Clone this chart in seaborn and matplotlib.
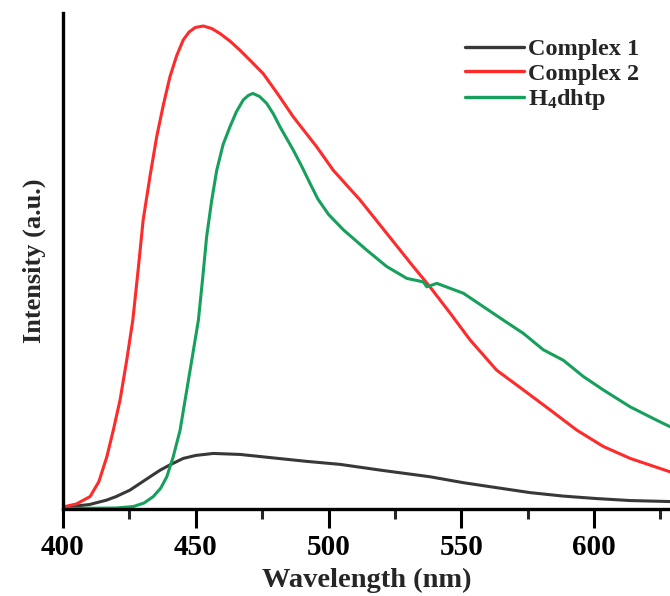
import numpy as np
import pandas as pd
import matplotlib
matplotlib.use("Agg")
import matplotlib.pyplot as plt
import seaborn as sns

# Data (wavelength nm, normalized intensity)
c1_wl = [400, 410, 416.5, 420, 425.2, 432.8, 436.5, 440.3, 445.3, 450, 456.6, 466.7, 479.2,
         491.8, 504.3, 520, 538.2, 550.8, 563.3, 575.9, 588.4, 601.0, 613.6, 628.6]
c1_int = [0.003, 0.009, 0.018, 0.025, 0.038, 0.065, 0.078, 0.089, 0.102, 0.108, 0.112, 0.110,
          0.103, 0.096, 0.090, 0.078, 0.065, 0.053, 0.043, 0.033, 0.026, 0.021, 0.017, 0.015]

c2_wl = [400, 405, 410.2, 413.5, 416.5, 419, 421.5, 424, 426.3, 428.3, 430.2, 432.8, 435.3,
         437.8, 440.3, 442.8, 445.3, 447.5, 449.8, 452.8, 456.0, 459.1, 462.8, 466.7, 471,
         475.4, 481, 486.7, 495.6, 501.8, 511.9, 521.9, 531.9, 538.2, 545.8, 553.3, 563.3,
         573.4, 583.4, 593.5, 603.5, 613.6, 628.6]
c2_int = [0.004, 0.010, 0.025, 0.055, 0.105, 0.160, 0.220, 0.300, 0.381, 0.482, 0.583, 0.672,
          0.751, 0.815, 0.872, 0.914, 0.946, 0.962, 0.971, 0.974, 0.969, 0.959, 0.944, 0.925,
          0.902, 0.878, 0.836, 0.791, 0.730, 0.683, 0.623, 0.556, 0.489, 0.448, 0.395,
          0.341, 0.280, 0.240, 0.200, 0.159, 0.126, 0.102, 0.075]

h4_wl = [400, 420, 426.5, 430.5, 434.0, 436.8, 439.1, 441.5, 444.1, 446.0, 448.5, 451.0,
         452.6, 454.1, 456.0, 457.9, 460.3, 462.9, 465.3, 467.9, 469.8, 471.5, 474, 476.7,
         479.2, 481.7, 486.7, 490, 493.0, 496, 500, 505.6, 514.4, 521.9, 529.5, 535.7, 537.0,
         540.8, 545.8, 550.8, 558.3, 565.8, 573.4, 580.9, 588.4, 596.0, 603.5, 613.6,
         623.6, 628.6]
h4_int = [0.001, 0.002, 0.005, 0.012, 0.025, 0.042, 0.065, 0.105, 0.159, 0.220, 0.300, 0.381,
          0.465, 0.549, 0.622, 0.683, 0.735, 0.771, 0.801, 0.825, 0.834, 0.838, 0.832, 0.818,
          0.797, 0.771, 0.724, 0.690, 0.657, 0.625, 0.594, 0.563, 0.522, 0.489, 0.465, 0.458,
          0.448, 0.455, 0.445, 0.435, 0.408, 0.381, 0.354, 0.321, 0.300, 0.267, 0.240, 0.206,
          0.179, 0.166]

series_names = ["Complex 1", "Complex 2", "H$_\\mathbf{4}$dhtp"]
colors = ["#383838", "#ff2a2a", "#17a05c"]
x_ticks = [400, 450, 500, 550, 600]

frames = []
for name, wl, it in zip(series_names, [c1_wl, c2_wl, h4_wl], [c1_int, c2_int, h4_int]):
    frames.append(pd.DataFrame({"wl": wl, "I": it, "series": name}))
df = pd.concat(frames, ignore_index=True)

sns.set_style("ticks")
plt.rcParams["font.family"] = ["Liberation Serif", "DejaVu Serif"]
plt.rcParams["font.weight"] = "bold"
plt.rcParams["mathtext.fontset"] = "custom"
plt.rcParams["mathtext.rm"] = "Liberation Serif:bold"
plt.rcParams["mathtext.bf"] = "Liberation Serif:bold"
plt.rcParams["mathtext.it"] = "Liberation Serif:bold"

fig = plt.figure(figsize=(6.7, 5.96), dpi=100)
ax = fig.add_axes([0.094, 0.146, 0.906, 0.832])

sns.lineplot(data=df, x="wl", y="I", hue="series", palette=dict(zip(series_names, colors)),
             hue_order=series_names, sort=False, estimator=None, linewidth=2.2, ax=ax)

ax.set_xlim(400, 628.6)
ax.set_ylim(0, 1)
ax.set_xticks(x_ticks)
ax.set_xticks([425, 475, 525, 575, 625], minor=True)
ax.set_yticks([])
for lbl in ax.get_xticklabels():
    lbl.set_fontweight("bold")
ax.tick_params(axis="x", which="major", direction="out", length=14, width=2.2,
               labelsize=21, pad=4, colors="black")
ax.tick_params(axis="x", which="minor", direction="out", length=7, width=2.2)

for s in ["top", "right"]:
    ax.spines[s].set_visible(False)
for s in ["left", "bottom"]:
    ax.spines[s].set_linewidth(2.4)
    ax.spines[s].set_color("black")

ax.set_xlabel("Wavelength (nm)", fontsize=20.5, fontweight="bold", labelpad=5)
ax.set_ylabel("Intensity (a.u.)", fontsize=19, fontweight="bold", labelpad=12)

leg = ax.legend(loc="upper right", bbox_to_anchor=(0.99, 0.998), frameon=False,
                fontsize=17.5, handlelength=2.4, handletextpad=0.2, labelspacing=0.1,
                borderaxespad=0.6)
for line in leg.get_lines():
    line.set_linewidth(2.4)
for t in leg.get_texts():
    t.set_fontweight("bold")

fig.savefig("out.png", dpi=100)
